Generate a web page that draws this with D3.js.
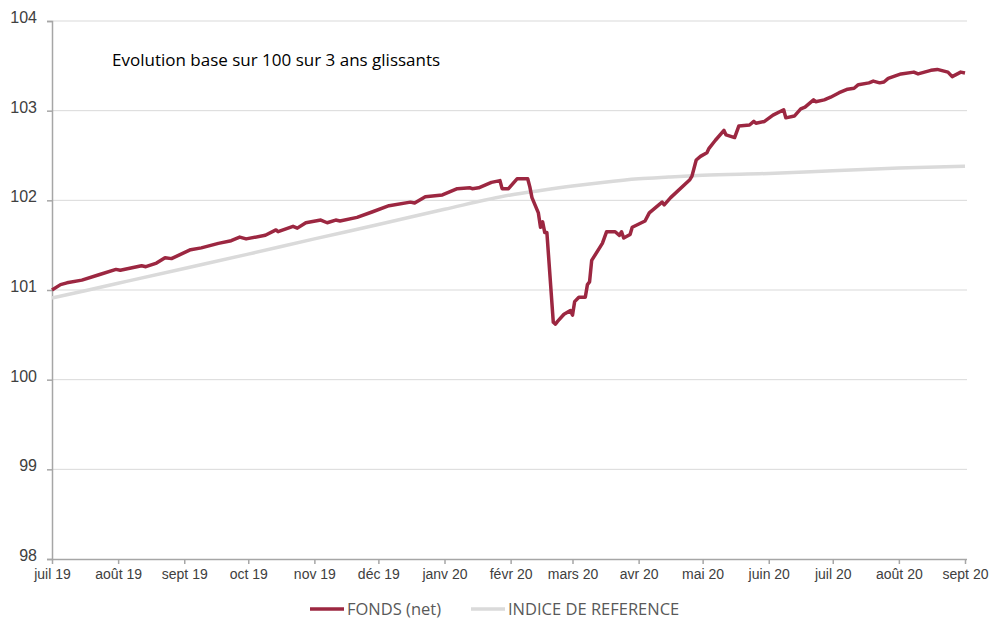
<!DOCTYPE html>
<html>
<head>
<meta charset="utf-8">
<script src="https://cdn.jsdelivr.net/npm/d3@7"></script>
<style>
  body { margin: 0; background: #fff; }
  svg { font-family: "Open Sans", sans-serif; }
</style>
</head>
<body>
<div id="chart"></div>
<script>
// fund, base 100 over rolling 3 years
const fundDates = [
  '2019-07-01','2019-07-05','2019-07-08','2019-07-15','2019-07-23','2019-07-31','2019-08-02','2019-08-12',
  '2019-08-14','2019-08-19','2019-08-23','2019-08-26','2019-09-04','2019-09-09','2019-09-17','2019-09-23',
  '2019-09-27','2019-09-30','2019-10-09','2019-10-14','2019-10-15','2019-10-22','2019-10-24','2019-10-28',
  '2019-11-04','2019-11-07','2019-11-11','2019-11-13','2019-11-21','2019-11-28','2019-12-06','2019-12-16',
  '2019-12-18','2019-12-23','2019-12-31','2020-01-07','2020-01-13','2020-01-14','2020-01-17','2020-01-23',
  '2020-01-27','2020-01-28','2020-01-31','2020-02-04','2020-02-09','2020-02-10','2020-02-11','2020-02-14',
  '2020-02-15','2020-02-16','2020-02-17','2020-02-18','2020-02-21','2020-02-22','2020-02-23','2020-02-26',
  '2020-02-29','2020-03-01','2020-03-02','2020-03-04','2020-03-07','2020-03-08','2020-03-09','2020-03-10',
  '2020-03-15','2020-03-17','2020-03-21','2020-03-23','2020-03-24','2020-03-25','2020-03-28','2020-03-29',
  '2020-04-04','2020-04-06','2020-04-12','2020-04-13','2020-04-16','2020-04-25','2020-04-26','2020-04-28',
  '2020-04-30','2020-05-03','2020-05-04','2020-05-07','2020-05-11','2020-05-12','2020-05-16','2020-05-18',
  '2020-05-23','2020-05-25','2020-05-26','2020-05-30','2020-06-03','2020-06-08','2020-06-09','2020-06-13',
  '2020-06-16','2020-06-18','2020-06-22','2020-06-23','2020-06-27','2020-06-30','2020-07-04','2020-07-08',
  '2020-07-11','2020-07-13','2020-07-18','2020-07-20','2020-07-23','2020-07-25','2020-07-27','2020-08-02',
  '2020-08-08','2020-08-10','2020-08-13','2020-08-16','2020-08-19','2020-08-24','2020-08-26','2020-08-30',
  '2020-09-01'
];
const fundValues = [
  101.00,101.06,101.08,101.11,101.17,101.23,101.22,101.27,
  101.26,101.30,101.36,101.35,101.45,101.47,101.52,101.55,
  101.59,101.57,101.61,101.67,101.65,101.71,101.69,101.75,
  101.78,101.75,101.78,101.77,101.81,101.87,101.94,101.98,
  101.97,102.04,102.06,102.13,102.14,102.13,102.14,102.20,
  102.22,102.13,102.13,102.24,102.24,102.15,102.03,101.86,
  101.70,101.76,101.64,101.64,100.64,100.62,100.65,100.73,
  100.77,100.72,100.87,100.92,100.92,101.06,101.09,101.33,
  101.52,101.65,101.65,101.61,101.65,101.58,101.62,101.70,
  101.77,101.86,101.98,101.95,102.03,102.23,102.27,102.45,
  102.49,102.53,102.58,102.67,102.78,102.73,102.70,102.83,
  102.84,102.88,102.86,102.88,102.95,103.01,102.92,102.94,
  103.02,103.04,103.12,103.10,103.12,103.15,103.20,103.24,
  103.25,103.29,103.31,103.33,103.31,103.32,103.36,103.41,
  103.43,103.41,103.43,103.45,103.46,103.43,103.38,103.43,
  103.42
];

// reference index
const refDates = [
  '2019-07-01','2019-08-01','2019-09-01','2019-10-01','2019-11-01','2019-12-01','2020-01-01','2020-02-01',
  '2020-02-15','2020-03-01','2020-03-15','2020-04-01','2020-04-15','2020-05-01','2020-06-01','2020-07-01',
  '2020-08-01','2020-09-01'
];
const refValues = [
  100.91,101.075,101.24,101.40,101.57,101.73,101.90,102.06,
  102.11,102.16,102.20,102.24,102.26,102.28,102.30,102.33,
  102.36,102.38
];

const yTicks = [98, 99, 100, 101, 102, 103, 104];
const monthTicks = [
  '2019-07-01','2019-08-01','2019-09-01','2019-10-01','2019-11-01','2019-12-01','2020-01-01',
  '2020-02-01','2020-03-01','2020-04-01','2020-05-01','2020-06-01','2020-07-01','2020-08-01','2020-09-01'
];
const monthLabels = [
  'juil 19','août 19','sept 19','oct 19','nov 19','déc 19','janv 20',
  'févr 20','mars 20','avr 20','mai 20','juin 20','juil 20','août 20','sept 20'
];
const seriesNames = ['FONDS (net)', 'INDICE DE REFERENCE'];
const seriesColors = ['#9c2741', '#dadada'];

const width = 996, height = 621;
const margin = { top: 21, right: 29, bottom: 62, left: 52 };
const parse = d3.timeParse('%Y-%m-%d');

const fund = fundDates.map((d, i) => ({ date: parse(d), value: fundValues[i] }));
const ref = refDates.map((d, i) => ({ date: parse(d), value: refValues[i] }));
const ticks = monthTicks.map(parse);

const svg = d3.select('#chart').append('svg')
  .attr('width', width)
  .attr('height', height);

const x = d3.scaleTime()
  .domain([parse('2019-07-01'), parse('2020-09-01')])
  .range([margin.left, width - margin.right - 2]);
const y = d3.scaleLinear()
  .domain([98, 104])
  .range([height - margin.bottom, margin.top]);

// gridlines
svg.append('g')
  .selectAll('line')
  .data(yTicks.slice(1))
  .join('line')
  .attr('x1', margin.left)
  .attr('x2', width - margin.right)
  .attr('y1', d => y(d))
  .attr('y2', d => y(d))
  .attr('stroke', '#d9d9d9')
  .attr('stroke-width', 1);

// axes
const yAxis = svg.append('g')
  .attr('transform', `translate(${margin.left},0)`)
  .call(d3.axisLeft(y).tickValues(yTicks).tickSize(5).tickPadding(10).tickFormat(d3.format('d')));
const xAxis = svg.append('g')
  .attr('transform', `translate(0,${y(98)})`)
  .call(d3.axisBottom(x).tickValues(ticks).tickSize(5).tickPadding(5)
    .tickFormat((d, i) => monthLabels[i]));

[yAxis, xAxis].forEach(a => {
  a.select('.domain').attr('stroke', '#a6a6a6').attr('stroke-width', 1.5);
  a.selectAll('.tick line').attr('stroke', '#a6a6a6').attr('stroke-width', 1.5);
  a.selectAll('.tick text').attr('fill', '#404040').style('font-size', '16px');
});
xAxis.select('.domain').attr('d', `M${margin.left},0.5H${width - margin.right}`);
xAxis.selectAll('.tick text').style('font-size', '14px');
yAxis.selectAll('.tick text').attr('dy', '0.1em');

const line = d3.line()
  .x(d => x(d.date))
  .y(d => y(d.value));

svg.append('path')
  .datum(ref)
  .attr('fill', 'none')
  .attr('stroke', seriesColors[1])
  .attr('stroke-width', 3.5)
  .attr('d', line.curve(d3.curveMonotoneX));

svg.append('path')
  .datum(fund)
  .attr('fill', 'none')
  .attr('stroke', seriesColors[0])
  .attr('stroke-width', 3.5)
  .attr('stroke-linejoin', 'round')
  .attr('d', line.curve(d3.curveLinear));

// title
svg.append('text')
  .attr('x', 112)
  .attr('y', 66)
  .attr('fill', '#000')
  .style('font-size', '17px')
  .text('Evolution base sur 100 sur 3 ans glissants');

// legend
const legend = svg.append('g').attr('transform', 'translate(310,609)');
const legendX = [0, 161];
seriesNames.forEach((name, i) => {
  const g = legend.append('g').attr('transform', `translate(${legendX[i]},0)`);
  g.append('line')
    .attr('x1', 0).attr('x2', 34)
    .attr('y1', 0).attr('y2', 0)
    .attr('stroke', seriesColors[i])
    .attr('stroke-width', 3.5);
  g.append('text')
    .attr('x', 37)
    .attr('y', 0)
    .attr('dy', '0.35em')
    .attr('fill', '#595959')
    .style('font-size', '16.5px')
    .text(name);
});
</script>
</body>
</html>
